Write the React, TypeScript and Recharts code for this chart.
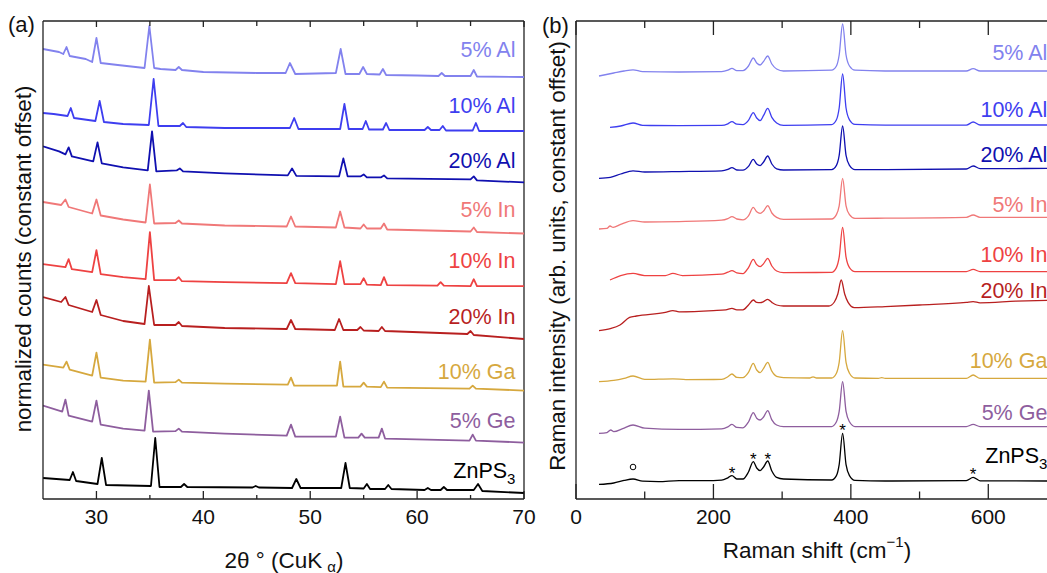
import React from 'react';
import { LineChart, Line, XAxis, YAxis, ReferenceDot, ReferenceLine } from 'recharts';

type Pt = [number, number];

// sample order, top to bottom
const sampleNames = ['5% Al', '10% Al', '20% Al', '5% In', '10% In', '20% In', '10% Ga', '5% Ge', 'ZnPS3'];
const sampleColors = ['#8282ee', '#3e3ef0', '#1010b0', '#f07878', '#ee4242', '#b81f1f', '#d6a83e', '#8e5e9e', '#000000'];

const xrdTicks = [30, 35, 40, 45, 50, 55, 60, 65, 70];
const xrdMajor = [30, 40, 50, 60, 70];
const ramanTicks = [0, 100, 200, 300, 400, 500, 600, 700];
const ramanMajor = [0, 200, 400, 600];

// constant offsets (arb. units)
const xrdOffsets = [211, 184, 158.3, 132.75, 106.4, 80, 54.2, 28.2, 3];
const ramanOffsets = [214, 187, 165.3, 140.8, 113.7, 99.5, 60.3, 36.2, 9];
const xrdLabelY = [224.5, 196.75, 169.2, 144.5, 119, 91.2, 63.3, 39, 14];
const ramanLabelY = [223, 194.5, 172, 147, 122, 104, 69, 43, 21.5];

// XRD, [2theta, counts above offset]
const xrd5Al: Pt[] = [[25, 14], [26.5, 12.5], [26.9, 11.5], [27.2, 15], [27.5, 10.5], [29, 9], [29.6, 7.5], [30, 19.5], [30.4, 7], [32, 6], [34.5, 4.5], [34.95, 25.5], [35.4, 4.5], [36, 4], [37.4, 3.5], [37.7, 5], [38, 3.5], [40, 2.5], [45, 2], [47.7, 2], [48.1, 7], [48.6, 1.5], [52.4, 2], [52.85, 14], [53.3, 1.5], [54.6, 1.5], [54.95, 5], [55.3, 1.5], [56.5, 1.25], [56.8, 4], [57.1, 1], [60, 0.75], [62, 0.5], [62.3, 2], [62.6, 0.5], [65, 0.5], [65.3, 3.5], [65.6, 0.25], [70, 0]];
const xrd10Al: Pt[] = [[25, 9], [26, 8.5], [27.3, 7.5], [27.6, 11.5], [27.9, 6.5], [29.9, 5], [30.3, 15], [30.7, 4.5], [32.5, 3.5], [34.9, 3], [35.35, 26], [35.8, 2.5], [37.8, 2.5], [38.1, 4], [38.4, 2], [42, 1.5], [48.1, 1.5], [48.5, 6.5], [48.9, 1], [52.8, 1], [53.2, 13.5], [53.6, 1], [54.9, 1], [55.2, 5], [55.5, 0.75], [56.8, 0.75], [57.1, 4], [57.4, 0.5], [60.7, 0.5], [61, 2], [61.3, 0.5], [62.1, 0.5], [62.4, 2.5], [62.7, 0.25], [65.2, 0.25], [65.5, 4], [65.8, 0], [70, 0]];
const xrd20Al: Pt[] = [[25, 18], [26.5, 15.5], [27.1, 14], [27.4, 17.5], [27.7, 13], [29.7, 10.5], [30.1, 20], [30.5, 9.5], [32.5, 7.5], [34.8, 6], [35.2, 25.5], [35.6, 5.5], [37.5, 6], [37.8, 7], [38.1, 5.5], [42, 4.5], [47.9, 3.5], [48.3, 7], [48.7, 3.25], [52.7, 3], [53.1, 12], [53.5, 3], [54.7, 3], [55, 4], [55.3, 2.5], [56.6, 2.5], [56.9, 3.5], [57.2, 2], [65, 1.5], [65.3, 3], [65.6, 1], [70, 0]];
const xrd5In: Pt[] = [[25, 15.75], [26.7, 14.25], [27.1, 17], [27.4, 13.25], [29.6, 10], [30, 17], [30.4, 9], [32.5, 7], [34.6, 5.5], [35, 24.5], [35.4, 5], [37.4, 5.25], [37.7, 6.5], [38, 5], [42, 4], [47.8, 3.5], [48.2, 8.5], [48.6, 3.5], [52.4, 3], [52.8, 11], [53.2, 3], [54.7, 2.5], [55, 4.5], [55.3, 2.5], [56.6, 2.5], [56.9, 5], [57.2, 2], [65, 1], [65.3, 3], [65.6, 0.75], [70, 0]];
const xrd10In: Pt[] = [[25, 11], [27.1, 9.5], [27.4, 13.5], [27.7, 8.5], [29.6, 7], [30, 18], [30.4, 6], [32.5, 4.5], [34.6, 3.5], [35, 27], [35.4, 3], [37.4, 3], [37.7, 4.5], [38, 2.5], [42, 2], [47.8, 1.5], [48.2, 6.5], [48.6, 1.5], [52.4, 1], [52.8, 12.5], [53.2, 1], [54.7, 1], [55, 4], [55.3, 0.75], [56.6, 0.5], [56.9, 4.5], [57.2, 0.5], [61.9, 0.25], [62.2, 2], [62.5, 0.25], [65, 0], [65.3, 3.5], [65.6, 0], [70, 0]];
const xrd20In: Pt[] = [[25, 21], [26.7, 18.5], [27.1, 21], [27.4, 17], [29.6, 13.5], [30, 19.5], [30.4, 12], [32.5, 9], [34.5, 7.5], [34.9, 26.5], [35.4, 7], [37.4, 7], [37.7, 8.5], [38, 6.5], [42, 5.5], [47.8, 5], [48.2, 9.5], [48.6, 5], [52.3, 4.5], [52.7, 10], [53.1, 4.5], [54.4, 4.5], [54.7, 6], [55, 4.25], [56.4, 4], [56.7, 6], [57, 4], [64.7, 2.5], [65, 4], [65.3, 2], [70, 0]];
const xrd10Ga: Pt[] = [[25, 13], [26.9, 11.5], [27.2, 14.5], [27.5, 10.5], [29.6, 7.5], [30, 19], [30.4, 6.5], [32.5, 5], [34.6, 4.5], [35, 25.5], [35.4, 4], [37.4, 4.25], [37.7, 5.5], [38, 4], [42, 3.5], [47.9, 3], [48.2, 6.5], [48.5, 2.5], [52.5, 2.5], [52.8, 14.5], [53.1, 2], [54.7, 2], [55, 4], [55.3, 2], [56.6, 1.75], [56.9, 4.5], [57.2, 1.5], [64.9, 1], [65.2, 2.5], [65.5, 1], [70, 0]];
const xrd5Ge: Pt[] = [[25, 18.5], [26.8, 15.5], [27.1, 21.5], [27.4, 13.5], [29.6, 10.5], [30, 21], [30.4, 9], [32.5, 7], [34.5, 6], [34.9, 26], [35.3, 5.5], [37.4, 5.75], [37.7, 7], [38, 5.5], [42, 4.5], [47.8, 3.5], [48.2, 9], [48.6, 3], [52.4, 3], [52.8, 13], [53.2, 2.5], [54.5, 2.5], [54.8, 4.5], [55.1, 2.5], [56.4, 2.5], [56.7, 7], [57, 2], [64.9, 1], [65.2, 4], [65.5, 1], [70, 0]];
const xrdZnPS3: Pt[] = [[25, 7.5], [27.5, 6.5], [27.8, 10.5], [28.1, 6], [30.1, 4.5], [30.5, 17.5], [30.9, 4], [35.1, 3.5], [35.5, 27.5], [35.9, 3], [37.9, 3], [38.2, 4.5], [38.5, 3], [44.6, 2.75], [44.9, 3.5], [45.2, 2.75], [48.3, 2.5], [48.7, 7], [49.1, 2.5], [52.9, 2.5], [53.3, 15], [53.7, 2.5], [55, 2.25], [55.3, 4.5], [55.6, 2], [57, 2], [57.3, 4], [57.6, 2], [60.7, 1.5], [61, 2.5], [61.3, 1.5], [62.2, 1.5], [62.5, 3], [62.8, 1.5], [65.3, 1.5], [65.7, 4.5], [66.1, 1], [70, 0]];

// Raman, [shift cm-1, intensity above offset]
const raman5Al: Pt[] = [[33.5, -2.5], [55, -1], [70, 0], [83, 0.6], [97, -0.3], [150, -0.5], [212, -0.3], [221, 0.4], [227, 1.3], [234, 0.2], [243, 0.2], [251, 2.5], [258, 6.5], [263, 4], [268, 3], [273, 4.8], [279, 7.5], [285, 3.5], [292, 1], [302, 0], [372, 0.4], [379, 2.5], [383, 8], [388, 23.5], [393, 8], [398, 2.5], [406, 0.4], [450, 0], [568, 0], [578, 1.2], [588, 0], [700, 0]];
const raman10Al: Pt[] = [[49.5, -1.2], [65, -0.5], [83, 1], [97, -0.2], [150, -0.3], [212, -0.2], [221, 0.6], [227, 1.7], [234, 0.4], [243, 0.2], [251, 2.3], [258, 6.2], [263, 3.5], [268, 2.2], [273, 4.8], [279, 8.3], [285, 3.8], [292, 1], [302, -0.2], [372, 0.2], [379, 2.6], [383, 8.5], [388, 25.5], [393, 8.5], [398, 2.6], [406, 0.3], [450, -0.1], [568, -0.1], [578, 1.5], [588, 0], [700, 0]];
const raman20Al: Pt[] = [[33.5, -5], [50, -4.5], [65, -2.8], [83, -1.2], [100, -1.8], [150, -1.6], [212, -1.2], [221, -0.5], [227, 0.4], [234, -0.8], [243, -0.9], [251, 1], [258, 4.5], [263, 2.2], [268, 1.4], [273, 3.2], [279, 6.2], [285, 2.2], [292, -0.2], [302, -0.8], [372, -0.6], [379, 1.5], [383, 6.5], [388, 21.2], [393, 6.5], [398, 1.5], [406, -0.6], [450, -0.6], [568, -0.3], [578, 1.2], [588, -0.1], [700, 0]];
const raman5In: Pt[] = [[33.5, -5.8], [45, -5.5], [49.5, -4.3], [54, -5], [65, -3.5], [83, -1.6], [100, -2.3], [150, -2.1], [212, -1.4], [221, -0.6], [227, 0.4], [234, -0.8], [243, -1.2], [251, 0.8], [258, 5], [263, 2.8], [268, 2], [273, 3.2], [279, 5.9], [285, 2.2], [292, 0], [302, -1], [372, -0.8], [379, 1.4], [383, 5.8], [388, 19.5], [393, 5.8], [398, 1.4], [406, -0.5], [450, -0.4], [568, 0], [578, 1.2], [588, 0], [700, 0]];
const raman10In: Pt[] = [[49.5, -4.2], [65, -2], [83, -0.9], [100, -2], [130, -2], [141, -0.9], [155, -2], [212, -1.3], [221, -0.3], [227, 0.5], [234, -0.6], [243, -1], [251, 2], [258, 6.1], [263, 3.5], [268, 2.5], [273, 4], [279, 6.6], [285, 2.8], [292, 0.3], [302, -0.5], [372, -0.4], [379, 2], [383, 7.2], [388, 22.1], [393, 7.2], [398, 2], [406, 0], [450, 0], [568, 0], [578, 1.1], [588, 0], [700, 0]];
const raman20In: Pt[] = [[33.5, -15.3], [50, -14.3], [64, -12.5], [78, -8.7], [88, -8], [130, -6.2], [141, -5.3], [150, -5.9], [200, -5.3], [218, -4.9], [227, -4.2], [234, -4.9], [243, -4.9], [251, -2.5], [258, 0], [263, -1.2], [268, -1.3], [273, -0.8], [279, 0.3], [285, -1.2], [292, -2.5], [302, -3], [368, -3], [376, -1], [381, 3], [386, 10], [391, 3], [396, -1.2], [405, -3.8], [450, -3.3], [500, -2.5], [568, -1.2], [578, -0.8], [588, -1.4], [640, -0.6], [700, 0]];
const raman10Ga: Pt[] = [[33.5, -1.6], [55, -1], [70, 0], [83, 1.2], [100, -0.5], [141, -0.2], [160, -0.6], [212, -0.5], [221, 0.8], [227, 2.2], [234, 0.5], [243, 0.4], [251, 3], [258, 7.5], [263, 4.2], [268, 2.9], [273, 5], [279, 8], [285, 3.6], [292, 1], [302, 0.4], [340, 0.2], [345, 0.8], [350, 0.2], [372, 0.2], [379, 2.6], [383, 8], [388, 23.9], [393, 8], [398, 2.6], [406, 0.2], [440, 0], [445, 0.4], [450, 0], [568, 0], [578, 1.7], [588, 0], [700, 0]];
const raman5Ge: Pt[] = [[33.5, -3.4], [45, -3], [50.5, -1.7], [55, -2.5], [68, -1], [83, 0.8], [100, -0.8], [150, -1.4], [212, -1.1], [221, -0.1], [227, 1.1], [234, -0.4], [243, -0.6], [251, 2.3], [258, 7], [263, 4.2], [268, 3.3], [273, 4.8], [279, 8], [285, 3.4], [292, 0.8], [302, 0], [372, 0], [379, 2.4], [383, 7.6], [388, 22.5], [393, 7.6], [398, 2.4], [406, 0], [450, 0], [568, 0], [578, 1.1], [588, 0], [700, 0]];
const ramanZnPS3: Pt[] = [[33.5, -1.7], [55, -1], [70, 0.3], [83, 1], [97, -0.1], [120, -0.3], [150, 0.2], [200, 0.2], [212, 0.4], [221, 1.6], [227, 2.7], [234, 1], [243, 1], [251, 4.5], [258, 9.7], [263, 6.5], [268, 5.2], [273, 7], [279, 10], [285, 5], [292, 1.8], [302, 1], [372, 0.5], [379, 2.7], [383, 8.2], [388, 23.8], [393, 8.2], [398, 2.7], [406, 0.3], [450, 0], [568, 0.2], [578, 1.8], [588, 0.1], [700, 0]];

// peak markers on the ZnPS3 Raman trace
const markerShift = [83, 227, 258, 279, 388, 578];
const markerLevel = [16, 14.9, 22, 22, 36.5, 14.5];
const markerSymbol = ['o', '*', '*', '*', '*', '*'];

const xrdSeries = [xrd5Al, xrd10Al, xrd20Al, xrd5In, xrd10In, xrd20In, xrd10Ga, xrd5Ge, xrdZnPS3];
const ramanSeries = [raman5Al, raman10Al, raman20Al, raman5In, raman10In, raman20In, raman10Ga, raman5Ge, ramanZnPS3];

const AXIS = '#222';
const FONT = '"Liberation Sans", Arial, Helvetica, sans-serif';

const withOffset = (pts: Pt[], off: number) => pts.map(([x, y]) => ({ x, y: y + off }));

function makeTick(majors: number[], side: 'top' | 'bottom', majorLen: number, minorLen: number) {
  return (props: any) => {
    const { x, y, payload } = props;
    const isMajor = majors.includes(payload.value);
    const len = isMajor ? majorLen : minorLen;
    const dir = side === 'bottom' ? -1 : 1;
    return (
      <g>
        <line x1={x} x2={x} y1={y} y2={y + dir * len} stroke={AXIS} strokeWidth={1.3} />
        {side === 'bottom' && isMajor && (
          <text x={x} y={y + 17} textAnchor="middle" dominantBaseline="central" fontSize={21} fill="#111">
            {payload.value}
          </text>
        )}
      </g>
    );
  };
}

function labelShape(name: string, color: string) {
  return (p: any) => (
    <text x={p.cx} y={p.cy} textAnchor="end" dominantBaseline="central" fontSize={21.5} fill={color}>
      {name === 'ZnPS3' ? (
        <>
          ZnPS<tspan fontSize={15} dy={7}>3</tspan>
        </>
      ) : (
        name
      )}
    </text>
  );
}

function markerShape(sym: string) {
  return (p: any) =>
    sym === 'o' ? (
      <circle cx={p.cx} cy={p.cy} r={2.8} fill="none" stroke="#000" strokeWidth={1} />
    ) : (
      <text x={p.cx} y={p.cy + 9.5} textAnchor="middle" fontSize={17} fill="#000">
        *
      </text>
    );
}

const axisLineStyle = { stroke: AXIS, strokeWidth: 1.3 };

export default function App() {
  return (
    <div
      style={{
        position: 'fixed',
        left: 0,
        top: 0,
        width: 1047,
        height: 573,
        overflow: 'hidden',
        background: '#fff',
        fontFamily: FONT,
      }}
    >
      <div style={{ position: 'absolute', left: 0, top: 0 }}>
        <LineChart width={540} height={573} margin={{ top: 20, right: 16, bottom: 73, left: 42 }}>
          <XAxis
            type="number"
            dataKey="x"
            domain={[25, 70]}
            ticks={xrdTicks}
            interval={0}
            allowDataOverflow
            height={1}
            tickSize={0}
            tickMargin={0}
            tickLine={false}
            tick={makeTick(xrdMajor, 'bottom', 8, 4)}
            axisLine={axisLineStyle}
          />
          <XAxis
            xAxisId="top"
            orientation="top"
            type="number"
            dataKey="x"
            domain={[25, 70]}
            ticks={xrdTicks}
            interval={0}
            allowDataOverflow
            height={1}
            tickSize={0}
            tickMargin={0}
            tickLine={false}
            tick={makeTick(xrdMajor, 'top', 6, 5)}
            axisLine={axisLineStyle}
          />
          <YAxis
            type="number"
            domain={[0, 239]}
            allowDataOverflow
            width={1}
            tick={false}
            tickLine={false}
            axisLine={axisLineStyle}
          />
          <ReferenceLine x={70} stroke={AXIS} strokeWidth={1.3} />
          {xrdSeries.map((pts, i) => (
            <Line
              key={sampleNames[i]}
              name={sampleNames[i]}
              data={withOffset(pts, xrdOffsets[i])}
              dataKey="y"
              type="linear"
              stroke={sampleColors[i]}
              strokeWidth={1.8}
              strokeLinejoin="round"
              dot={false}
              isAnimationActive={false}
            />
          ))}
          {sampleNames.map((n, i) => (
            <ReferenceDot
              key={'la' + n}
              x={69.2}
              y={xrdLabelY[i]}
              r={0}
              ifOverflow="visible"
              shape={labelShape(n, sampleColors[i])}
            />
          ))}
        </LineChart>
      </div>

      <div style={{ position: 'absolute', left: 530, top: 0 }}>
        <LineChart width={570} height={573} margin={{ top: 20, right: 43, bottom: 73, left: 45 }}>
          <XAxis
            type="number"
            dataKey="x"
            domain={[0, 700]}
            ticks={ramanTicks}
            interval={0}
            allowDataOverflow
            height={1}
            tickSize={0}
            tickMargin={0}
            tickLine={false}
            tick={makeTick(ramanMajor, 'bottom', 15, 7.5)}
            axisLine={axisLineStyle}
          />
          <XAxis
            xAxisId="top"
            orientation="top"
            type="number"
            dataKey="x"
            domain={[0, 700]}
            ticks={ramanTicks}
            interval={0}
            allowDataOverflow
            height={1}
            tickSize={0}
            tickMargin={0}
            tickLine={false}
            tick={makeTick(ramanMajor, 'top', 14, 7)}
            axisLine={axisLineStyle}
          />
          <YAxis
            type="number"
            domain={[0, 239]}
            allowDataOverflow
            width={1}
            tick={false}
            tickLine={false}
            axisLine={axisLineStyle}
          />
          {ramanSeries.map((pts, i) => (
            <Line
              key={sampleNames[i]}
              name={sampleNames[i]}
              data={withOffset(pts, ramanOffsets[i])}
              dataKey="y"
              type="monotone"
              stroke={sampleColors[i]}
              strokeWidth={1.3}
              dot={false}
              isAnimationActive={false}
            />
          ))}
          {sampleNames.map((n, i) => (
            <ReferenceDot
              key={'lb' + n}
              x={686}
              y={ramanLabelY[i]}
              r={0}
              ifOverflow="visible"
              shape={labelShape(n, sampleColors[i])}
            />
          ))}
          {markerShift.map((s, i) => (
            <ReferenceDot
              key={'m' + s}
              x={s}
              y={markerLevel[i]}
              r={0}
              ifOverflow="visible"
              shape={markerShape(markerSymbol[i])}
            />
          ))}
        </LineChart>
      </div>

      <svg width={1047} height={573} style={{ position: 'absolute', left: 0, top: 0, pointerEvents: 'none' }}>
        <g fontFamily={FONT} fill="#111">
          <text x={21.5} y={24} textAnchor="middle" dominantBaseline="central" fontSize={22}>
            (a)
          </text>
          <text x={555.5} y={25} textAnchor="middle" dominantBaseline="central" fontSize={22}>
            (b)
          </text>
          <text
            transform="translate(23,259) rotate(-90)"
            textAnchor="middle"
            dominantBaseline="central"
            fontSize={22.3}
          >
            normalized counts (constant offset)
          </text>
          <text
            transform="translate(557,256) rotate(-90)"
            textAnchor="middle"
            dominantBaseline="central"
            fontSize={22.3}
          >
            Raman intensity (arb. units, constant offset)
          </text>
          <text x={284} y={560} textAnchor="middle" dominantBaseline="central" fontSize={22.5}>
            2θ ° (CuK<tspan dx={5} dy={6} fontSize={15}>α</tspan>
            <tspan dy={-6} fontSize={22.5}>)</tspan>
          </text>
          <text x={817} y={550} textAnchor="middle" dominantBaseline="central" fontSize={22.5}>
            Raman shift (cm<tspan dy={-9} fontSize={15}>−1</tspan>
            <tspan dy={9} fontSize={22.5}>)</tspan>
          </text>
        </g>
      </svg>
    </div>
  );
}
